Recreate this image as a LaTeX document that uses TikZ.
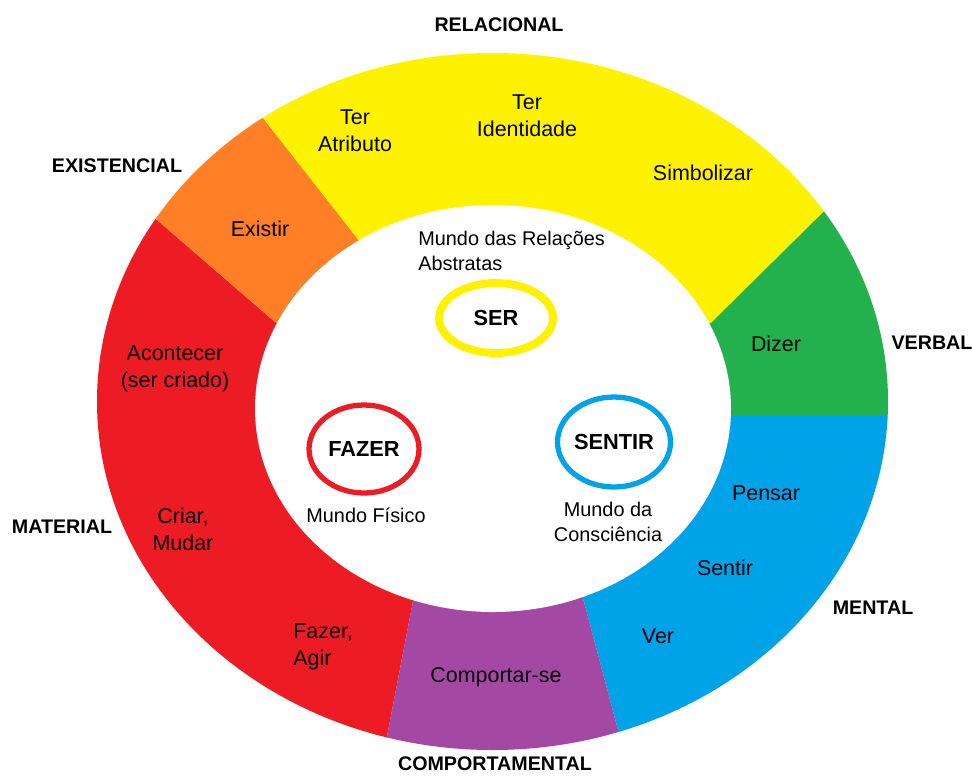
\documentclass[tikz,border=0pt]{standalone}
\usepackage{fontspec}
\setmainfont{Liberation Sans}
\usetikzlibrary{shapes.geometric}

\definecolor{paintred}{HTML}{ED1C24}
\definecolor{paintorange}{HTML}{FF7F27}
\definecolor{paintyellow}{HTML}{FFF200}
\definecolor{paintgreen}{HTML}{22B14C}
\definecolor{paintblue}{HTML}{00A2E8}
\definecolor{paintpurple}{HTML}{A349A4}

\begin{document}
\begin{tikzpicture}[x=0.02cm, y=-0.02cm,
	verb/.style={font=\fontsize{12.2}{15.5}\selectfont, align=center, inner sep=0pt},
	world/.style={font=\fontsize{11.3}{14.2}\selectfont, align=center, inner sep=0pt},
	process/.style={font=\bfseries\fontsize{11.2}{13}\selectfont, inner sep=0pt},
	core/.style={ellipse, draw=#1, line width=3pt, inner sep=0pt,
		font=\bfseries\fontsize{12.4}{14}\selectfont}]
	\useasboundingbox (0,0) rectangle (972,775);

	% borders between the process types: inner point i, outer point e
	\coordinate (c) at (493,408);
	\foreach \n/\ix/\iy/\ex/\ey in {1/275/322/98/169, 2/357/238/216/58, 3/711/323/880/156,
			4/731/416/960/416, 5/583/598/636/798, 6/413/601/374/804}
	{
		\coordinate (i\n) at (\ix,\iy);
		\coordinate (e\n) at (\ex,\ey);
	}

	\begin{scope}
		\clip (492.5,401.5) ellipse [x radius=395.5, y radius=348.5];
		\fill[paintred] (c) -- (i6) -- (e6) -- (-50,804) -- (-50,169) -- (e1) -- (i1) -- cycle;
		\fill[paintorange] (c) -- (i1) -- (e1) -- (60,30) -- (e2) -- (i2) -- cycle;
		\fill[paintyellow] (c) -- (i2) -- (e2) -- (216,-20) -- (900,-20) -- (e3) -- (i3) -- cycle;
		\fill[paintgreen] (c) -- (i3) -- (e3) -- (960,156) -- (e4) -- (i4) -- cycle;
		\fill[paintblue] (c) -- (i4) -- (e4) -- (960,798) -- (e5) -- (i5) -- cycle;
		\fill[paintpurple] (c) -- (i5) -- (e5) -- (e6) -- (i6) -- cycle;
	\end{scope}
	\fill[white] (493,408.5) ellipse [x radius=238, y radius=203.5];

	% process types round the ring
	\node[process] (relacional) at (499,25) {RELACIONAL};
	\node[process] (existencial) at (117,166) {EXISTENCIAL};
	\node[process] (verbal) at (932,343) {VERBAL};
	\node[process] (material) at (62,527) {MATERIAL};
	\node[process] (mental) at (873,608) {MENTAL};
	\node[process] (comportamental) at (495,764) {COMPORTAMENTAL};

	% verbs in the ring
	\node[verb] (atributo) at (355,131) {Ter\\Atributo};
	\node[verb] (identidade) at (527,116) {Ter\\Identidade};
	\node[verb] (simbolizar) at (703,173) {Simbolizar};
	\node[verb] (existir) at (260,229) {Existir};
	\node[verb] (acontecer) at (175,369) {Acontecer\\(ser criado)};
	\node[verb] (dizer) at (776,344) {Dizer};
	\node[verb] (criar) at (183,529) {Criar,\\Mudar};
	\node[verb, anchor=west, align=left] (fazer) at (293,647) {Fazer,\\Agir};
	\node[verb] (comportar) at (496,677) {Comportar-se};
	\node[verb] (ver) at (658,636) {Ver};
	\node[verb] (sentir) at (725,568) {Sentir};
	\node[verb] (pensar) at (766,493) {Pensar};

	% the three worlds
	\node[core=paintyellow, line width=4.5pt, minimum width=2.28cm, minimum height=1.4cm] (ser) at (496,318) {SER};
	\node[core=paintred, minimum width=2.2cm, minimum height=1.76cm] (fazerw) at (364,449) {FAZER};
	\node[core=paintblue, minimum width=2.24cm, minimum height=1.8cm] (sentirw) at (614,442) {SENTIR};

	\node[world, anchor=west, align=left] (abstratas) at (418,251) {Mundo das Relações\\Abstratas};
	\node[world] (fisico) at (366,515) {Mundo Físico};
	\node[world] (consciencia) at (608,522) {Mundo da\\Consciência};
\end{tikzpicture}
\end{document}
